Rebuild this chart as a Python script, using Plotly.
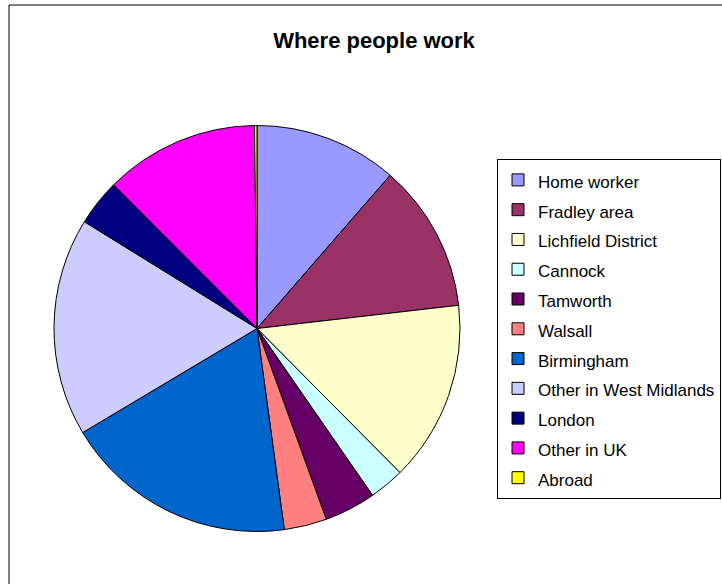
import plotly.graph_objects as go

# Share of respondents by place of work (%), in slice order clockwise from 12 o'clock
places = [
    "Home worker", "Fradley area", "Lichfield District", "Cannock", "Tamworth",
    "Walsall", "Birmingham", "Other in West Midlands", "London", "Other in UK", "Abroad",
]
shares = [11.4, 11.8, 14.4, 2.8, 4.1, 3.4, 18.6, 17.4, 3.7, 12.3, 0.2]
slice_colors = [
    "#9999FF", "#993366", "#FFFFCC", "#CCFFFF", "#660066",
    "#FF8080", "#0066CC", "#CCCCFF", "#000080", "#FF00FF", "#FFFF00",
]

W, H = 722, 584

# Pie placement (pixels): centre and radius
cx, cy, r = 257, 328.5, 203

# Legend rows are spaced by the legend font size; the visible label text is
# drawn a little smaller inside a span so the rows stay ~30 px apart.
LEGEND_ROW_FONT = 20.6
LABEL_FONT = 17
legend_labels = [f"<span style='font-size:{LABEL_FONT}px'>{p}</span>" for p in places]

fig = go.Figure(
    go.Pie(
        labels=legend_labels,
        values=shares,
        sort=False,
        direction="clockwise",
        rotation=0,
        textinfo="none",
        hovertemplate="%{label}: %{value}%<extra></extra>",
        marker=dict(colors=slice_colors, line=dict(color="black", width=1)),
        domain=dict(
            x=[(cx - r) / W, (cx + r) / W],
            y=[1 - (cy + r) / H, 1 - (cy - r) / H],
        ),
    )
)

fig.update_layout(
    width=W,
    height=H,
    margin=dict(l=0, r=0, t=0, b=0, autoexpand=False),
    paper_bgcolor="white",
    plot_bgcolor="white",
    font=dict(family="Liberation Sans, Arial, sans-serif", color="black"),
    title=dict(
        text="<b>Where people work</b>",
        x=374 / W,
        xanchor="center",
        y=1 - 40 / H,
        yanchor="middle",
        font=dict(size=22, color="black"),
    ),
    legend=dict(
        x=497 / W,
        xanchor="left",
        y=1 - 159 / H,
        yanchor="top",
        bordercolor="black",
        borderwidth=1,
        bgcolor="white",
        font=dict(size=LEGEND_ROW_FONT, color="black"),
        traceorder="normal",
    ),
    shapes=[
        # chart-area frame
        dict(
            type="rect", xref="paper", yref="paper",
            x0=9 / W, x1=1.05, y0=-0.05, y1=1 - 5 / H,
            line=dict(color="black", width=1), fillcolor="rgba(0,0,0,0)",
            layer="below",
        )
    ],
)

fig.write_html("out.html")
